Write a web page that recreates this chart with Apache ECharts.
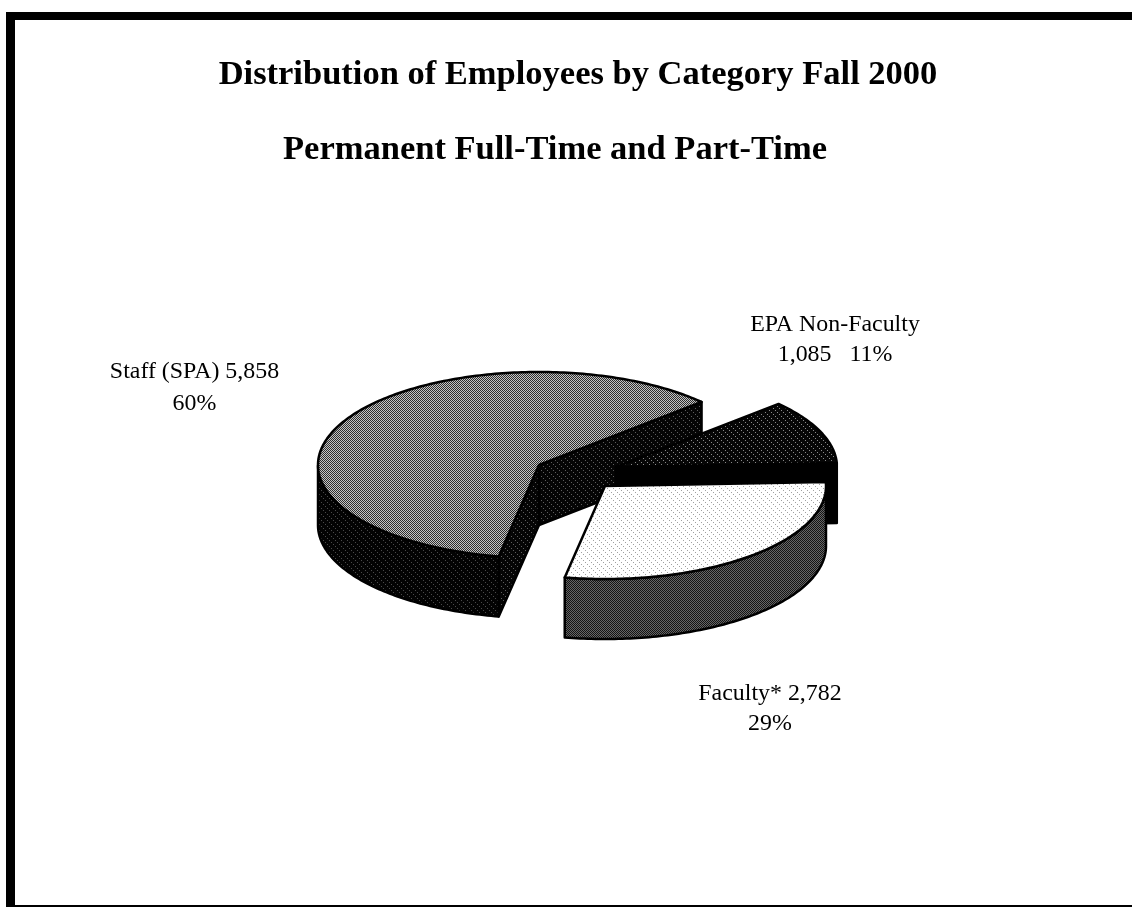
<!DOCTYPE html>
<html>
<head>
<meta charset="utf-8">
<style>html,body{margin:0;padding:0;background:#fff}#c{width:1132px;height:907px}</style>
<script src="https://cdn.jsdelivr.net/npm/echarts@6/dist/echarts.min.js"></script>
</head>
<body>
<div id="c"></div>
<script>
const titleLines = ['Distribution of Employees by Category Fall 2000', 'Permanent Full-Time and Part-Time'];
const categories = ['Staff (SPA)', 'EPA Non-Faculty', 'Faculty*'];
const employees = [5858, 1085, 2782];
const percents = [60, 11, 29];

// Layout only
const START_ANGLE = 259.5, RX = 221, RY = 93, DEPTH = 60;
const centers = [[539, 465], [616, 467], [605, 486]];
const labelAt = [[194.5, 388], [835, 340], [770, 709]];
const labelLineHeight = [32, 30, 30];
const labelText = [
  i => categories[i] + ' ' + employees[i].toLocaleString('en-US') + '\n' + percents[i] + '%',
  i => categories[i] + '\n' + employees[i].toLocaleString('en-US') + '   ' + percents[i] + '%',
  i => categories[i] + ' ' + employees[i].toLocaleString('en-US') + '\n' + percents[i] + '%'
];

function tile(rows, palette) {
  const h = rows.length, w = rows[0].length;
  const cv = document.createElement('canvas');
  cv.width = w; cv.height = h;
  const g = cv.getContext('2d');
  rows.forEach((r, y) => [...r].forEach((ch, x) => {
    g.fillStyle = palette[ch]; g.fillRect(x, y, 1, 1);
  }));
  return { image: cv, repeat: 'repeat' };
}
const checker = ['ab', 'ba'];
const sparse = ['aaaaab', 'aaaaaa', 'abaaaa', 'aaaaaa', 'aaabaa', 'aaaaaa'];
const topFill = [
  tile(checker, { a: '#2e2e2e', b: '#c4c4c4' }),
  tile(sparse, { a: '#060606', b: '#8a8a8a' }),
  tile(sparse, { a: '#ffffff', b: '#a0a0a0' })
];
const sideFill = [
  tile(sparse, { a: '#030303', b: '#4a4a4a' }),
  '#000000',
  tile(checker, { a: '#141414', b: '#666666' })
];
const wallFill = [
  tile(sparse, { a: '#050505', b: '#5e5e5e' }),
  '#000000',
  '#000000'
];

const total = employees.reduce((a, b) => a + b, 0);
const rad = d => d * Math.PI / 180;

function renderItem(params, api) {
  const i = params.dataIndex;
  const before = employees.slice(0, i).reduce((a, b) => a + b, 0);
  const a = START_ANGLE - before / total * 360;
  const b = a - api.value(1) / total * 360;
  const [cx, cy] = centers[i];
  const pt = (t, dz) => [cx + RX * Math.cos(rad(t)), cy - RY * Math.sin(rad(t)) + (dz || 0)];
  const children = [];
  const line = { stroke: '#000', lineWidth: 2.5, lineJoin: 'round' };

  // cut walls
  const wall = t => ({
    type: 'polygon',
    shape: { points: [[cx, cy], pt(t), pt(t, DEPTH), [cx, cy + DEPTH]] },
    style: Object.assign({ fill: wallFill[i] }, line)
  });
  if (Math.cos(rad(a)) < 0) children.push(wall(a));
  if (Math.cos(rad(b)) > 0) children.push(wall(b));

  // outer front wall
  const upper = [], lower = [];
  for (let t = a; t >= b - 1e-6; t -= 1) {
    if (Math.sin(rad(t)) < 0) { upper.push(pt(t)); lower.unshift(pt(t, DEPTH)); }
  }
  if (Math.sin(rad(b)) < 0) { upper.push(pt(b)); lower.unshift(pt(b, DEPTH)); }
  if (upper.length > 1) {
    children.push({
      type: 'polygon',
      shape: { points: upper.concat(lower) },
      style: Object.assign({ fill: sideFill[i] }, line)
    });
  }

  // top face
  const top = [[cx, cy]];
  for (let t = a; t > b; t -= 1) top.push(pt(t));
  top.push(pt(b));
  children.push({
    type: 'polygon',
    shape: { points: top },
    style: Object.assign({ fill: topFill[i] }, line)
  });

  // label
  children.push({
    type: 'text',
    style: {
      x: labelAt[i][0], y: labelAt[i][1],
      text: labelText[i](i),
      fill: '#000',
      font: '23.9px "Liberation Serif"',
      lineHeight: labelLineHeight[i],
      align: 'center',
      verticalAlign: 'middle'
    }
  });
  return { type: 'group', children };
}

const chart = echarts.init(document.getElementById('c'), null, { renderer: 'canvas' });
chart.setOption({
  animation: false,
  backgroundColor: '#ffffff',
  title: titleLines.map((t, k) => ({
    text: t,
    left: k === 0 ? 573 : 550,
    top: k === 0 ? 52.5 : 128,
    textAlign: 'center',
    textStyle: { fontFamily: 'Liberation Serif', fontWeight: 'bold', fontSize: 34.5, color: '#000' }
  })),
  graphic: [
    { type: 'rect', shape: { x: 6, y: 12, width: 1126, height: 8 }, style: { fill: '#000' } },
    { type: 'rect', shape: { x: 6, y: 12, width: 9, height: 895 }, style: { fill: '#000' } },
    { type: 'rect', shape: { x: 6, y: 905, width: 1126, height: 2 }, style: { fill: '#000' } }
  ],
  series: [{
    type: 'custom',
    coordinateSystem: 'none',
    data: categories.map((c, i) => ({ name: c, value: [i, employees[i]] })),
    renderItem
  }]
});
</script>
</body>
</html>
